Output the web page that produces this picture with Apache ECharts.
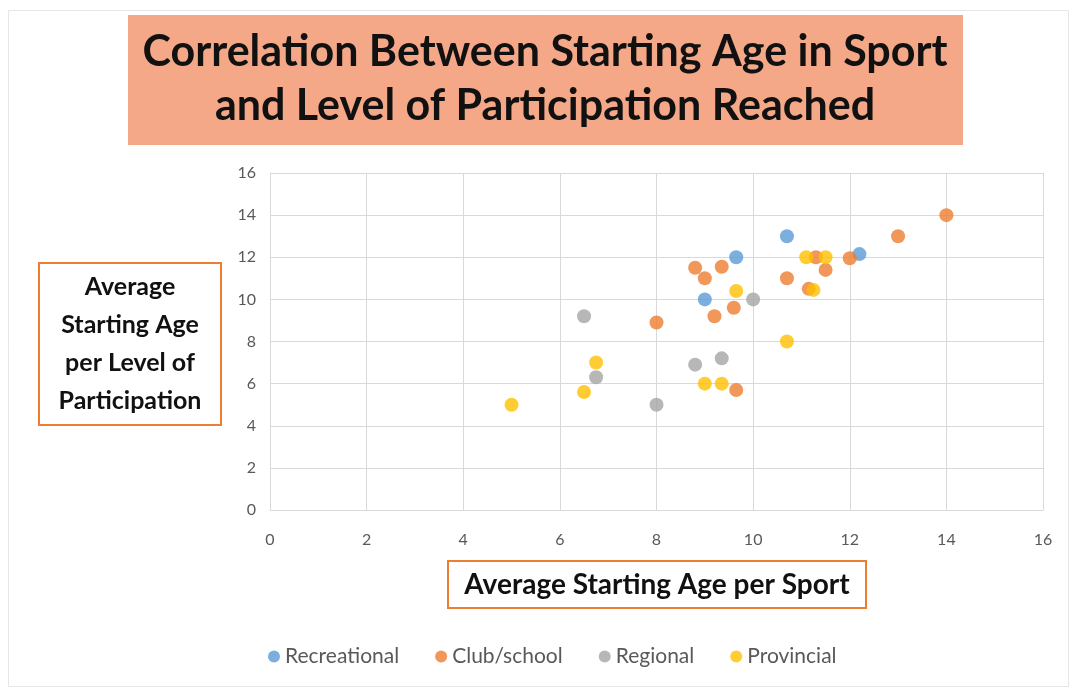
<!DOCTYPE html>
<html lang="en">
<head>
  <meta charset="UTF-8">
  <title>Starting Age vs Level of Participation</title>
  <style>
    html, body { margin: 0; padding: 0; background: #fff; }
  </style>
</head>
<body>
  <div id="main" style="width: 1072px;height:689px;"></div>
  <script src="https://cdn.jsdelivr.net/npm/echarts@6/dist/echarts.min.js"></script>
  <script>
    // [average starting age per sport, average starting age per level]
    let recreational = [[10.7, 13], [9.65, 12], [12.2, 12.15], [9, 10]];
    let clubSchool = [
      [14, 14], [13, 13], [12, 11.95], [8.8, 11.5], [9.35, 11.55], [9, 11],
      [11.3, 12], [11.5, 11.4], [10.7, 11], [11.15, 10.5], [9.6, 9.6],
      [9.2, 9.2], [8, 8.9], [9.65, 5.7]
    ];
    let regional = [[6.5, 9.2], [10, 10], [6.75, 6.3], [8, 5], [8.8, 6.9], [9.35, 7.2]];
    let provincial = [
      [5, 5], [6.5, 5.6], [6.75, 7], [9, 6], [9.35, 6], [9.65, 10.4],
      [10.7, 8], [11.1, 12], [11.5, 12], [11.25, 10.45]
    ];
    let seriesNames = ['Recreational', 'Club/school', 'Regional', 'Provincial'];
    let colorLib = ['#5B9BD5', '#ED7D31', '#A5A5A5', '#FFC000'];

    let font = 'Lato, "Liberation Sans", sans-serif';
    let chart = echarts.init(document.getElementById('main'));

    let option = {
      color: colorLib,
      animation: false,
      grid: { left: 270, right: 29, top: 173, bottom: 179 },
      xAxis: {
        type: 'value', min: 0, max: 16, interval: 2,
        axisLine: { show: true, lineStyle: { color: '#d9d9d9' } },
        axisTick: { show: false },
        axisLabel: { color: '#595959', fontSize: 16, fontFamily: font, margin: 22 },
        splitLine: { lineStyle: { color: '#d9d9d9' } }
      },
      yAxis: {
        type: 'value', min: 0, max: 16, interval: 2,
        axisLine: { show: true, lineStyle: { color: '#d9d9d9' } },
        axisTick: { show: false },
        axisLabel: { color: '#595959', fontSize: 16, fontFamily: font, margin: 14 },
        splitLine: { lineStyle: { color: '#d9d9d9' } }
      },
      legend: {
        bottom: 17, left: 263, itemGap: 36,
        icon: 'circle', itemWidth: 12, itemHeight: 12,
        textStyle: { color: '#595959', fontSize: 21, fontFamily: font },
        data: seriesNames
      },
      series: [recreational, clubSchool, regional, provincial].map((d, i) => ({
        type: 'scatter',
        name: seriesNames[i],
        symbolSize: 14,
        data: d
      })),
      graphic: [
        {
          type: 'rect', left: 6, top: 8,
          shape: { width: 1060, height: 676 },
          style: { fill: null, stroke: '#e6e6e6', lineWidth: 1 }, silent: true, z: -1
        },
        {
          type: 'group', left: 128, top: 15,
          children: [
            { type: 'rect', shape: { width: 835, height: 130 }, style: { fill: '#F4A888' } },
            {
              type: 'text', x: 417, y: 64,
              style: {
                text: 'Correlation Between Starting Age in Sport\nand Level of Participation Reached',
                font: 'bold 43px ' + font, lineHeight: 54,
                fill: '#111', align: 'center', verticalAlign: 'middle'
              }
            }
          ]
        },
        {
          type: 'group', left: 38, top: 262,
          children: [
            { type: 'rect', shape: { width: 182, height: 162 }, style: { fill: '#fff', stroke: '#ED7D31', lineWidth: 2 } },
            {
              type: 'text', x: 91, y: 81,
              style: {
                text: 'Average\nStarting Age\nper Level of\nParticipation',
                font: 'bold 25px ' + font, lineHeight: 38,
                fill: '#111', align: 'center', verticalAlign: 'middle'
              }
            }
          ]
        },
        {
          type: 'group', left: 447, top: 560,
          children: [
            { type: 'rect', shape: { width: 418, height: 47 }, style: { fill: '#fff', stroke: '#ED7D31', lineWidth: 2 } },
            {
              type: 'text', x: 209, y: 24,
              style: {
                text: 'Average Starting Age per Sport',
                font: 'bold 28px ' + font,
                fill: '#111', align: 'center', verticalAlign: 'middle'
              }
            }
          ]
        }
      ]
    };
    chart.setOption(option);
  </script>
</body>
</html>
